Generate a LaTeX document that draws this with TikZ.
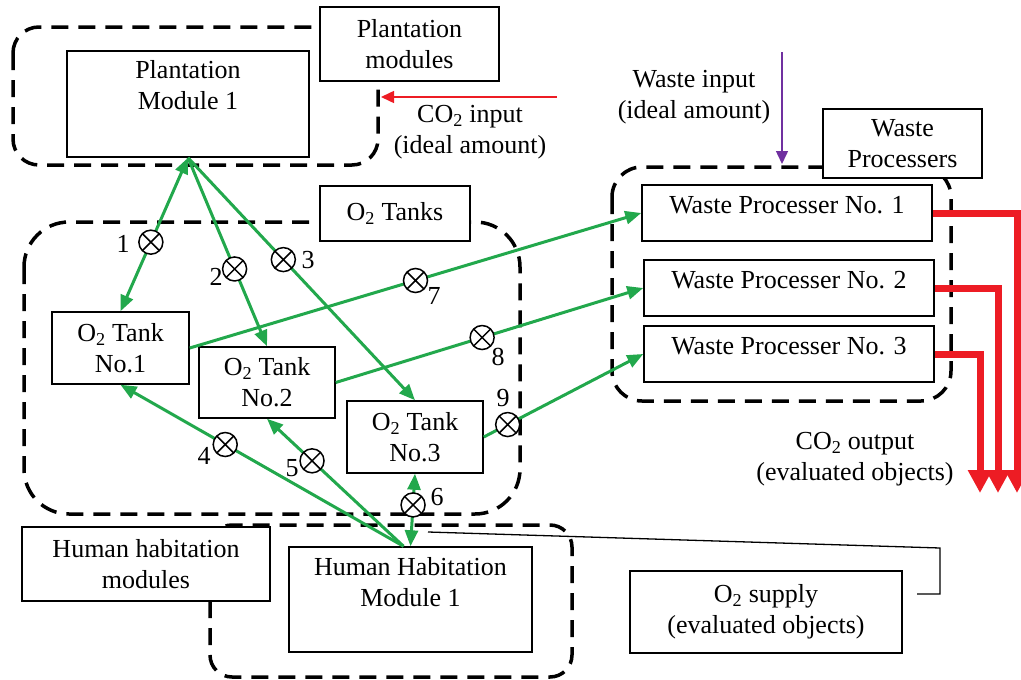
\documentclass[tikz,border=0pt]{standalone}
\usepackage{fontspec}
\setmainfont{Liberation Serif}
\usetikzlibrary{arrows.meta}
\definecolor{flowgreen}{RGB}{34,168,76}
\definecolor{flowred}{RGB}{237,28,36}
\definecolor{flowpurple}{RGB}{112,48,160}
\begin{document}
\begin{tikzpicture}[x=1pt,y=-1pt,
  font=\fontsize{26}{31}\selectfont,
  group/.style={draw=black, line width=3.5pt, dash pattern=on 17pt off 10pt, rounded corners=#1},
  box/.style={draw=black, line width=1.5pt, fill=white, inner sep=0pt, align=center},
  txt/.style={inner sep=0pt, align=center},
  flow/.style={draw=flowgreen, line width=3pt},
  fhead/.style={-{Triangle[width=13pt,length=16pt]}},
  fboth/.style={{Triangle[width=13pt,length=16pt]}-{Triangle[width=13pt,length=16pt]}},
  valve/.style={circle, draw=black, fill=white, line width=1.5pt, minimum size=24pt, inner sep=0pt,
    path picture={\draw[-, draw=black, line width=1.5pt] (path picture bounding box.north west) -- (path picture bounding box.south east)
      (path picture bounding box.north east) -- (path picture bounding box.south west);}},
  redout/.style={draw=flowred, line width=7pt, -{Triangle[width=23pt,length=23pt]}},
  thinarrow/.style={line width=1.5pt, -{Triangle[width=12pt,length=13pt]}}
]
\useasboundingbox (0,0) rectangle (1021,680);

% group outlines
\draw[group=26pt] (13,27) rectangle (378,165);
\draw[group=45pt] (24,222) rectangle (520,514);
\draw[group=30pt] (612,167) rectangle (951,401);
\draw[group=22pt] (210,525) rectangle (572,677);

% group labels
\node[box, minimum width=179pt, minimum height=74pt] (plab) at (409.5,44) {Plantation\\modules};
\node[box, minimum width=150pt, minimum height=55pt] (o2lab) at (395,213.5) {O\textsubscript{2} Tanks};
\node[box, minimum width=159pt, minimum height=69pt] (wplab) at (902.5,143.5) {Waste\\Processers};
\node[box, minimum width=248pt, minimum height=74pt] (hhlab) at (146,564) {Human habitation\\modules};

% modules
\node[box, minimum width=242pt, minimum height=106pt] (pm) at (188,104) {};
\node[txt] (pmt) at (188,85) {Plantation\\Module 1};
\node[box, minimum width=137pt, minimum height=72pt] (t1) at (120.5,348) {O\textsubscript{2} Tank\\No.1};
\node[box, minimum width=136pt, minimum height=71pt] (t2) at (267,382.5) {O\textsubscript{2} Tank\\No.2};
\node[box, minimum width=136pt, minimum height=72pt] (t3) at (415,437) {O\textsubscript{2} Tank\\No.3};
\node[box, minimum width=290pt, text height=28pt, text depth=28pt] (wp1) at (787,213) {Waste Processer No. 1};
\node[box, minimum width=290pt, text height=28pt, text depth=28pt] (wp2) at (789,288) {Waste Processer No. 2};
\node[box, minimum width=290pt, text height=28pt, text depth=28pt] (wp3) at (789,354) {Waste Processer No. 3};
\node[box, minimum width=243pt, minimum height=105pt] (hh) at (410.5,599.5) {};
\node[txt] (hht) at (410.5,582) {Human Habitation\\Module 1};
\node[box, minimum width=272pt, minimum height=82pt] (o2sup) at (766,612) {O\textsubscript{2} supply\\(evaluated objects)};

% green flows with valves
\draw[flow, fboth] (pm.south) -- node[valve, pos=0.55] (v1) {} (t1.north);
\draw[flow, fhead] (pm.south) -- node[valve, pos=0.59] (v2) {} (t2.north);
\draw[flow, fhead] (pm.south) -- node[valve, pos=0.42] (v3) {} (t3.north);
\draw[flow, fhead] ([xshift=-7pt]hh.north) -- node[valve, pos=0.63] (v4) {} (t1.south);
\draw[flow, fhead] ([xshift=-7pt]hh.north) -- node[valve, pos=0.67] (v5) {} (t2.south);
\draw[flow, fboth] (hh.north) -- node[valve, pos=0.57] (v6) {} (t3.south);
\draw[flow, fhead] (t1.east) -- node[valve, pos=0.5] (v7) {} (wp1.west);
\draw[flow, fhead] (t2.east) -- node[valve, pos=0.476] (v8) {} (wp2.west);
\draw[flow, fhead] (t3.east) -- node[valve, pos=0.15] (v9) {} (wp3.west);

% valve numbers
\node[txt] (n1) at (123,244) {1};
\node[txt] (n2) at (216,277) {2};
\node[txt] (n3) at (308,260) {3};
\node[txt] (n4) at (204,456) {4};
\node[txt] (n5) at (292,468) {5};
\node[txt] (n6) at (437,497) {6};
\node[txt] (n7) at (434,296) {7};
\node[txt] (n8) at (498,357) {8};
\node[txt] (n9) at (503,398) {9};

% CO2 outputs
\coordinate (o1) at (1017,493);
\coordinate (o2) at (998,493);
\coordinate (o3) at (980,493);
\draw[redout] (wp1.east) -| (o1);
\draw[redout] (wp2.east) -| (o2);
\draw[redout] (wp3.east) -| (o3);
\node[txt] (co2out) at (855,459) {CO\textsubscript{2} output\\(evaluated objects)};

% CO2 input
\coordinate (ci0) at (557,97);
\coordinate (ci1) at (381,97);
\draw[thinarrow, flowred] (ci0) -- (ci1);
\node[txt] (co2in) at (470,132) {CO\textsubscript{2} input\\(ideal amount)};

% waste input
\coordinate (wi0) at (782,52);
\coordinate (wi1) at (782,164);
\draw[thinarrow, flowpurple] (wi0) -- (wi1);
\node[txt] (wastein) at (694,97) {Waste input\\(ideal amount)};

% O2 supply callout
\coordinate (s0) at (428,532);
\coordinate (s1) at (940,548);
\coordinate (s2) at (940,594);
\coordinate (s3) at (917,594);
\draw[line width=1.3pt] (s0) -- (s1) -- (s2) -- (s3);
\end{tikzpicture}
\end{document}
